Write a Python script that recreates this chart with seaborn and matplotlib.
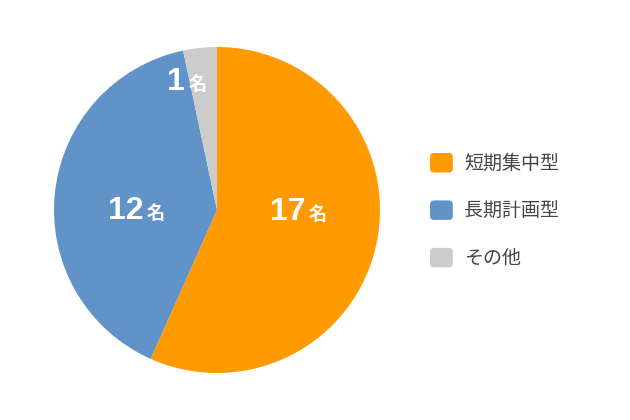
import matplotlib.pyplot as plt
import seaborn as sns
from matplotlib.patches import Patch, FancyBboxPatch
from matplotlib.legend_handler import HandlerPatch

categories = ["短期集中型", "長期計画型", "その他"]
counts = [17, 12, 1]
unit = "名"
colors = ["#FF9A00", "#6293C8", "#CCCCCC"]

# where the number meets the unit, in pie units (radius = 1)
label_anchor = [(0.55, -0.06), (-0.445, -0.055), (-0.19, 0.736)]

sns.set_theme(style="white")
plt.rcParams["font.family"] = ["Noto Sans CJK JP", "DejaVu Sans"]

W, H = 630, 420
fig = plt.figure(figsize=(6.3, 4.2), dpi=100)
cx, cy, r = 217, 210, 163
ax = fig.add_axes([(cx - r) / W, (H - cy - r) / H, 2 * r / W, 2 * r / H])

wedges, _ = ax.pie(counts, colors=colors, startangle=90, counterclock=False,
                   wedgeprops=dict(linewidth=0))
ax.set_xlim(-1, 1)
ax.set_ylim(-1, 1)
ax.set_aspect("equal")
ax.axis("off")

for n, (x, y) in zip(counts, label_anchor):
    ax.text(x - 0.005, y, str(n), ha="right", va="baseline", color="white",
            fontsize=23, fontweight="bold", family="Liberation Sans")
    ax.text(x + 0.015, y, unit, ha="left", va="baseline", color="white",
            fontsize=13, fontweight="bold")


def rounded_box(legend, orig_handle, xdescent, ydescent, width, height, fontsize):
    return FancyBboxPatch((-xdescent, -ydescent), width, height,
                          boxstyle="round,pad=0,rounding_size=3")


handles = [Patch(facecolor=c, edgecolor="none") for c in colors]
leg = fig.legend(handles, categories, loc="upper left",
                 bbox_to_anchor=(430 / W, 1 - 153 / H), frameon=False,
                 fontsize=13.7, handlelength=1.2, handleheight=1.2,
                 handletextpad=0.6, labelspacing=1.38, borderpad=0,
                 borderaxespad=0,
                 handler_map={Patch: HandlerPatch(patch_func=rounded_box)})
for t in leg.get_texts():
    t.set_color("#444444")

fig.savefig("out.png", dpi=100)
